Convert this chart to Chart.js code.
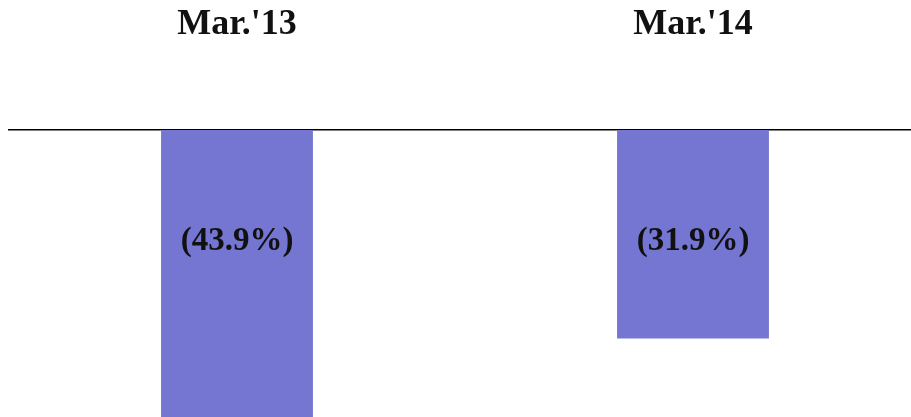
<!DOCTYPE html>
<html>
<head>
<meta charset="utf-8">
<script src="https://cdn.jsdelivr.net/npm/chart.js@4"></script>
<style>
  html, body { margin: 0; padding: 0; background: #fff; overflow: hidden; }
  #wrap { width: 921px; height: 417px; position: relative; }
</style>
</head>
<body>
<div id="wrap"><canvas id="bar-chart"></canvas></div>
<script>
var categories = ["Mar.'13", "Mar.'14"];
var values = [-43.9, -31.9];
var valueLabels = ["(43.9%)", "(31.9%)"];

var serif = "'Liberation Serif', 'DejaVu Serif', serif";

// labels sit at the same height inside both bars
var labelPlugin = {
    id: 'barLabels',
    afterDatasetsDraw: function(chart) {
        var c = chart.ctx;
        var meta = chart.getDatasetMeta(0);
        c.save();
        c.font = "bold 33px " + serif;
        c.fillStyle = "#111";
        c.textAlign = "center";
        c.textBaseline = "middle";
        meta.data.forEach(function(bar, i) {
            c.fillText(valueLabels[i], bar.x, 241);
        });
        c.restore();
    }
};

var ctx = document.getElementById("bar-chart");

var chart = new Chart(ctx, {
    type: 'bar',
    data: {
        labels: categories,
        datasets: [
            {
                data: values,
                backgroundColor: "#7575d2",
                borderWidth: 0,
                barPercentage: 0.333,
                categoryPercentage: 1
            }
        ]
    },
    options: {
        responsive: true,
        maintainAspectRatio: false,
        animation: false,
        layout: {
            padding: { left: 9, right: 0, top: 2, bottom: 0 }
        },
        plugins: {
            legend: { display: false },
            tooltip: { enabled: false }
        },
        scales: {
            x: {
                position: 'top',
                grid: { display: false, drawTicks: false },
                border: { display: true, color: "#000", width: 1.5 },
                ticks: {
                    color: "#111",
                    padding: 84,
                    font: { family: serif, size: 36, weight: 'bold' }
                },
                // keep the big gap between the labels and the line
                afterFit: function(scale) {
                    scale.height = 128;
                }
            },
            y: {
                display: false,
                min: -43.9,
                max: 0
            }
        }
    },
    plugins: [labelPlugin]
});
</script>
</body>
</html>
